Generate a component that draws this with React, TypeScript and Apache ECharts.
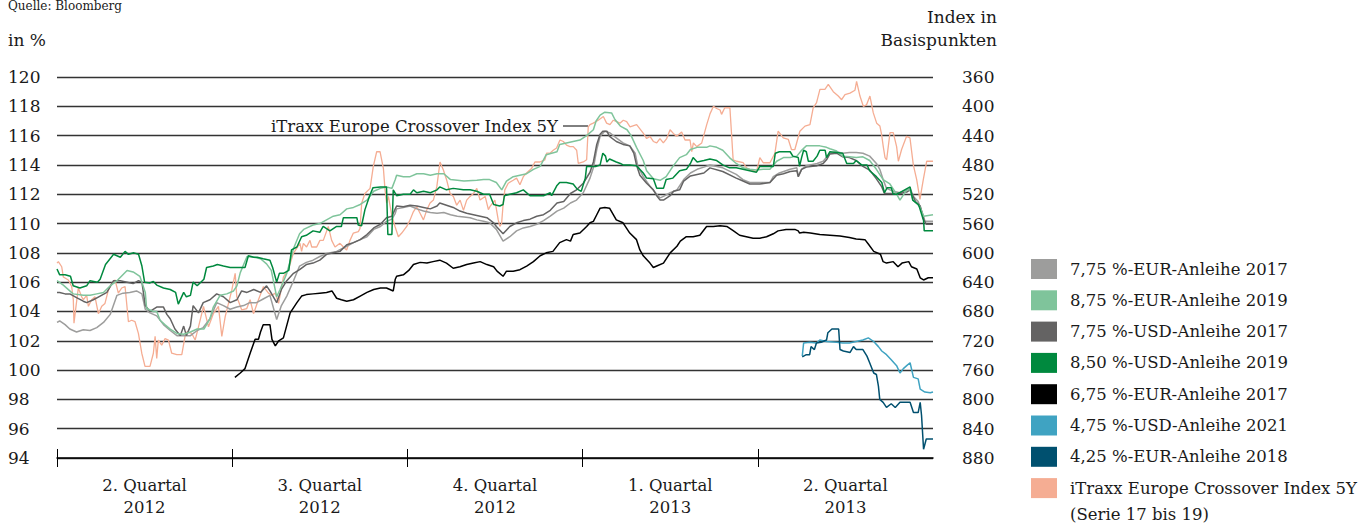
import React, { useEffect, useRef } from "react";
import * as echarts from "echarts";

// x = weeks since start of Q2 2012 (13 weeks per quarter), y = price in % (left) or spread in bp (right)
const quarterLabels = ["2. Quartal\n2012", "3. Quartal\n2012", "4. Quartal\n2012", "1. Quartal\n2013", "2. Quartal\n2013"];
const quarterTicks = [0, 13, 26, 39, 52];

const eur2017: number[][] = [[0,103.25],[0.2,103.35],[0.6,103.1],[0.95,102.8],[1.45,102.6],[1.95,102.75],[2.45,102.7],[2.95,102.9],[3.45,103.25],[3.95,103.8],[4.45,105.1],[4.9,105.25],[5.4,105.3],[5.9,105.4],[6.3,105.2],[6.55,104.15],[6.9,103.9],[7.4,103.7],[7.9,103.1],[8.4,102.7],[8.9,102.35],[9.4,102.35],[9.9,102.35],[10.4,102.7],[10.85,102.9],[11.35,103.5],[11.85,104.6],[12.35,104.4],[12.85,104.15],[13.35,104.3],[13.85,104.4],[14.3,104.6],[14.8,104.6],[15.3,104.85],[15.8,105.1],[16.3,103.45],[16.65,104.4],[17.05,105.05],[17.55,106.1],[18.0,107.1],[18.5,107.35],[19.0,107.5],[19.5,107.75],[20.0,107.95],[20.75,108.1],[21.5,108.45],[22.0,108.7],[22.5,108.9],[23.0,109.1],[23.5,109.6],[24.0,109.8],[24.45,110.15],[24.85,110.3],[25.1,110.7],[25.2,111.0],[25.7,111.1],[26.2,111.2],[26.7,111.0],[27.2,110.85],[27.7,110.75],[28.2,110.7],[28.7,110.75],[29.2,110.6],[29.7,110.5],[30.2,110.45],[30.65,110.4],[31.15,110.25],[31.65,110.15],[32.1,110.05],[32.6,109.6],[33.1,108.8],[33.6,109.1],[34.1,109.5],[34.6,109.7],[35.1,109.8],[35.6,109.95],[36.1,110.2],[36.6,110.5],[37.1,110.85],[37.6,111.05],[38.1,111.4],[38.55,111.6],[39.05,112.1],[39.55,113.1],[39.8,113.8],[40.05,115.05],[40.3,115.95],[40.65,116.3],[41.0,116.2],[41.5,115.85],[42.0,115.5],[42.5,115.3],[42.9,114.8],[43.1,113.9],[43.5,113.2],[44.0,112.55],[44.5,112.0],[44.75,111.75],[45.0,111.85],[45.5,112.1],[46.0,112.3],[46.5,113.0],[47.0,113.45],[47.5,113.7],[48.0,113.85],[48.45,114.0],[49.4,113.8],[50.4,113.35],[50.9,113.0],[51.4,112.8],[52.15,112.8],[52.9,112.8],[53.15,113.2],[53.6,113.45],[54.4,113.7],[54.9,113.8],[55.0,113.2],[55.25,113.7],[55.6,113.95],[56.4,114.1],[56.85,114.25],[57.35,114.8],[57.85,114.9],[58.3,114.8],[58.8,114.85],[59.3,114.85],[59.8,114.8],[60.3,114.6],[60.8,114.1],[61.05,113.7],[61.3,113.0],[61.55,112.4],[62.05,112.2],[62.55,112.1],[63.05,112.3],[63.3,112.4],[63.55,111.85],[63.9,111.5],[64.3,110.5],[64.4,110.15],[65.0,110.15]];

const eur2019: number[][] = [[0,106.1],[0.47,105.8],[1.2,105.2],[1.95,105.1],[2.45,105.1],[2.95,105.2],[3.45,105.3],[3.95,105.75],[4.45,106.1],[5.2,106.8],[5.65,106.7],[6.15,106.4],[6.55,105.3],[6.65,104.2],[7.15,104.0],[7.4,104.0],[7.65,103.4],[8.0,103.1],[8.4,102.8],[8.9,102.5],[9.4,102.45],[9.9,102.6],[10.4,102.8],[10.9,102.8],[11.35,103.5],[11.6,104.3],[12.1,105.1],[12.6,105.2],[13.1,105.4],[13.35,105.75],[13.6,106.65],[14.1,107.75],[14.6,107.7],[15.1,107.6],[15.55,107.25],[15.9,106.8],[16.3,105.0],[16.55,105.5],[17.05,106.6],[17.55,108.3],[18.0,109.3],[18.3,109.6],[19.0,109.9],[19.5,110.0],[20.0,110.25],[20.5,110.5],[21.0,110.6],[21.5,111.0],[22.0,111.1],[22.5,111.3],[23.0,111.6],[23.5,112.2],[24.0,112.4],[24.45,112.5],[24.85,112.4],[25.1,113.0],[25.2,113.3],[25.7,113.2],[26.2,113.2],[26.7,113.4],[27.2,113.4],[27.7,113.3],[28.2,113.4],[28.7,113.4],[29.2,113.0],[29.7,112.95],[30.2,112.9],[31.15,112.95],[31.65,113.0],[32.1,113.0],[32.6,112.8],[33.0,112.3],[33.35,112.9],[33.85,113.2],[34.35,113.3],[34.85,113.4],[35.35,113.7],[35.85,113.9],[36.3,114.7],[37.1,114.9],[37.3,115.4],[37.8,115.5],[38.3,115.6],[38.8,115.7],[39.3,116.0],[39.8,116.4],[40.0,117.0],[40.3,117.4],[40.65,117.6],[41.15,117.55],[41.4,117.1],[41.8,116.65],[42.3,116.4],[42.6,116.0],[43.0,115.2],[43.5,114.3],[43.75,113.6],[44.25,113.05],[44.75,112.95],[45.2,113.2],[45.7,113.9],[46.2,114.5],[46.7,114.7],[47.0,115.05],[47.5,115.2],[48.2,115.2],[48.45,115.3],[48.95,115.2],[49.4,115.0],[49.9,114.5],[50.4,114.1],[50.9,113.8],[51.4,113.7],[51.9,113.65],[52.4,113.7],[52.9,113.7],[53.4,114.25],[53.9,114.5],[54.4,114.5],[54.9,114.6],[55.25,115.0],[55.6,115.3],[56.1,115.3],[56.6,115.3],[57.1,115.2],[57.35,115.1],[57.85,114.95],[58.3,114.6],[58.8,114.55],[59.3,114.5],[59.8,114.55],[60.3,114.3],[60.8,113.7],[61.3,113.0],[61.8,112.7],[62.3,112.0],[62.55,111.6],[63.05,112.3],[63.3,112.3],[63.5,111.6],[64.0,111.2],[64.3,110.5],[65.0,110.6]];

const usd2017: number[][] = [[0,105.3],[0.2,105.3],[0.6,105.2],[0.95,105.2],[1.45,104.95],[1.95,104.7],[2.2,104.6],[2.7,104.8],[3.2,105.05],[3.7,105.3],[4.2,106.1],[4.7,106.1],[5.2,106.0],[5.65,105.9],[6.05,106.1],[6.3,106.0],[6.55,104.4],[6.9,104.0],[7.4,104.3],[7.9,104.3],[8.15,103.8],[8.4,103.5],[8.75,102.8],[9.15,102.35],[9.4,103.0],[9.6,102.35],[9.9,103.0],[10.1,104.4],[10.5,103.9],[10.85,104.6],[11.35,104.8],[11.85,105.2],[12.35,105.0],[12.85,104.6],[13.35,104.8],[13.7,105.4],[14.1,105.3],[14.6,105.5],[15.1,105.3],[15.55,105.75],[15.8,105.4],[16.3,104.6],[16.65,105.5],[17.05,106.1],[17.55,106.6],[18.0,106.85],[18.5,107.2],[19.0,107.3],[19.5,107.5],[20.0,107.9],[20.5,108.0],[21.0,108.1],[21.5,108.55],[22.0,108.7],[22.5,108.9],[23.0,109.25],[23.5,109.7],[24.0,109.95],[24.45,110.4],[24.85,110.5],[25.1,111.0],[25.2,111.2],[25.7,111.15],[26.2,111.25],[26.7,111.2],[27.2,111.1],[27.7,111.0],[28.2,111.2],[28.4,111.4],[28.9,111.25],[29.4,111.1],[29.9,110.85],[30.4,110.7],[30.9,110.6],[31.4,110.5],[31.9,110.4],[32.4,110.05],[32.6,109.8],[33.1,109.3],[33.6,109.8],[34.1,110.05],[34.6,110.2],[35.1,110.3],[35.6,110.5],[36.1,110.6],[36.6,110.9],[37.1,111.4],[37.6,111.5],[38.1,112.05],[38.55,112.3],[39.05,112.75],[39.55,113.5],[39.8,114.2],[40.05,115.4],[40.3,116.1],[40.5,116.3],[40.8,116.3],[41.0,115.95],[41.5,115.6],[42.0,115.4],[42.5,115.3],[42.8,114.8],[43.0,114.0],[43.25,113.3],[43.75,112.75],[44.25,112.3],[44.5,111.9],[44.75,111.6],[45.0,111.6],[45.5,111.9],[45.75,112.2],[46.2,112.3],[46.5,112.9],[47.0,113.25],[47.5,113.35],[48.0,113.45],[48.45,113.8],[49.4,113.55],[50.4,113.1],[50.9,112.9],[51.4,112.7],[52.15,112.7],[52.9,112.8],[53.4,113.3],[53.9,113.4],[54.4,113.55],[54.9,113.6],[55.0,113.2],[55.25,113.7],[55.6,113.85],[56.4,113.95],[56.85,114.1],[57.1,114.35],[57.35,114.75],[57.85,114.8],[58.3,114.55],[58.8,114.5],[59.3,114.3],[59.8,113.9],[60.3,113.65],[60.8,113.05],[61.2,112.5],[61.4,112.05],[62.05,112.05],[62.55,112.05],[63.05,112.15],[63.3,112.3],[63.7,111.5],[64.05,111.2],[64.3,110.3],[64.5,109.95],[65.0,109.95]];

const usd2019: number[][] = [[0,106.9],[0.2,106.5],[0.6,106.5],[1.0,106.4],[1.2,105.75],[1.7,105.6],[2.2,105.75],[2.45,106.1],[3.0,106.0],[3.2,106.2],[3.6,107.2],[4.2,107.9],[4.45,107.8],[4.7,107.7],[5.05,108.1],[5.3,107.9],[5.7,108.0],[6.05,107.9],[6.3,107.1],[6.5,106.0],[6.9,105.95],[7.15,106.05],[7.4,105.8],[7.9,105.6],[8.4,105.5],[8.8,105.3],[9.0,104.5],[9.4,105.3],[9.6,105.0],[9.9,105.1],[10.1,106.0],[10.4,105.75],[10.9,106.2],[11.1,107.0],[11.6,107.1],[11.9,107.2],[12.35,107.1],[12.85,107.0],[13.3,107.0],[13.95,107.0],[14.2,107.8],[14.6,107.7],[14.85,107.7],[15.3,107.6],[15.8,107.5],[16.0,107.0],[16.3,106.0],[16.5,106.6],[16.8,106.6],[17.2,106.8],[17.4,108.2],[17.8,108.4],[18.15,109.1],[18.5,109.2],[19.0,109.5],[19.5,109.4],[19.75,109.8],[20.25,109.5],[20.75,109.8],[21.1,109.8],[21.25,110.4],[21.75,110.4],[22.25,110.4],[22.35,109.9],[22.6,109.85],[22.85,110.95],[23.2,111.9],[23.45,112.45],[24.0,112.5],[24.45,112.5],[24.55,109.25],[24.85,109.25],[24.95,112.3],[25.2,111.9],[25.7,112.0],[26.2,112.0],[26.45,112.3],[26.7,112.1],[27.2,112.2],[27.7,112.1],[28.2,112.3],[28.4,112.5],[28.9,112.3],[29.4,112.4],[30.15,112.3],[30.65,112.3],[31.15,112.2],[31.65,112.0],[32.1,112.0],[32.4,111.3],[32.85,111.2],[33.1,111.3],[33.2,111.9],[33.6,112.0],[34.1,112.1],[34.6,112.3],[35.1,111.9],[35.6,111.9],[36.1,111.9],[36.6,112.1],[36.7,111.9],[37.1,112.6],[37.3,112.8],[37.8,112.8],[38.3,112.7],[38.6,112.35],[38.9,112.2],[39.2,113.1],[39.3,113.9],[39.5,113.9],[40.0,113.9],[40.3,114.0],[40.5,114.8],[40.7,114.6],[40.8,114.2],[41.0,114.4],[41.5,114.2],[41.8,114.1],[42.0,114.0],[42.5,114.0],[43.0,113.95],[43.5,113.45],[43.75,113.1],[44.25,113.05],[44.5,112.4],[45.0,112.4],[45.2,113.0],[45.7,113.1],[46.2,113.6],[46.7,113.7],[47.0,114.1],[47.2,114.5],[47.5,114.2],[48.0,114.3],[48.45,114.4],[48.95,114.3],[49.4,114.0],[49.9,113.8],[50.4,113.8],[50.9,113.7],[51.4,113.6],[51.9,113.5],[52.15,113.9],[53.15,113.9],[53.3,114.8],[53.6,114.9],[54.4,114.9],[54.6,114.6],[55.0,114.5],[55.1,113.9],[55.25,114.5],[55.4,115.0],[55.6,114.9],[55.75,114.25],[56.1,114.25],[56.4,114.6],[56.6,115.0],[57.0,115.0],[57.1,114.5],[57.35,114.9],[57.85,114.85],[58.3,114.8],[58.6,114.1],[59.1,114.1],[59.3,114.3],[59.7,114.0],[60.1,114.0],[60.3,113.6],[60.8,113.2],[61.2,112.8],[61.4,112.1],[61.6,112.45],[61.9,112.45],[62.05,112.0],[62.3,112.0],[62.7,112.2],[63.0,112.35],[63.3,112.5],[63.5,111.6],[63.9,111.3],[64.0,111.1],[64.3,110.2],[64.35,109.5],[65.0,109.5]];

const eur2017b: number[][] = [[13.2,99.5],[13.6,99.8],[13.95,100.1],[14.35,101.2],[14.7,102.1],[14.95,102.1],[15.1,102.6],[15.3,103.1],[15.8,103.1],[15.95,102.1],[16.2,101.65],[16.45,102.0],[16.8,102.2],[17.3,103.9],[17.8,104.6],[18.15,105.05],[18.5,105.15],[19.0,105.2],[19.5,105.25],[20.0,105.3],[20.4,105.4],[20.75,104.9],[21.1,104.8],[21.5,104.7],[22.0,104.8],[22.5,105.05],[23.0,105.3],[23.5,105.5],[24.0,105.6],[24.45,105.6],[24.95,105.4],[25.1,106.2],[25.2,106.4],[25.7,106.5],[26.1,106.8],[26.45,107.2],[26.95,107.35],[27.45,107.3],[27.9,107.4],[28.4,107.5],[28.9,107.3],[29.4,106.95],[29.9,107.05],[30.4,107.2],[30.9,107.3],[31.4,107.4],[31.9,107.2],[32.4,107.05],[32.65,106.75],[33.1,106.4],[33.35,106.75],[33.85,106.75],[34.35,106.85],[34.85,107.1],[35.35,107.4],[35.85,107.8],[36.3,108.0],[36.8,108.1],[37.3,108.7],[37.8,108.9],[38.1,108.8],[38.3,109.25],[38.8,109.35],[39.3,109.8],[39.55,110.05],[39.8,110.15],[40.05,110.6],[40.3,111.05],[40.65,111.1],[41.0,111.05],[41.5,110.25],[42.0,110.05],[42.5,109.35],[43.0,108.9],[43.25,108.2],[43.5,107.8],[44.0,107.3],[44.25,107.0],[44.5,107.1],[45.0,107.3],[45.5,108.0],[46.0,108.45],[46.25,108.8],[46.7,109.1],[47.2,109.1],[47.7,109.2],[48.2,109.8],[48.7,109.8],[49.2,109.85],[49.7,109.8],[50.2,109.5],[50.65,109.2],[51.15,109.1],[51.65,109.0],[52.15,109.0],[52.65,109.1],[53.15,109.3],[53.5,109.5],[54.1,109.6],[54.75,109.6],[55.0,109.5],[55.1,109.35],[55.4,109.4],[55.9,109.35],[56.6,109.25],[57.35,109.2],[58.1,109.15],[58.8,109.05],[59.3,108.95],[59.95,108.9],[60.2,108.6],[60.6,108.1],[61.1,107.9],[61.3,107.4],[61.55,107.3],[62.05,107.4],[62.4,107.05],[62.7,107.3],[63.2,107.4],[63.4,107.05],[63.8,106.9],[64.05,106.3],[64.3,106.15],[64.65,106.3],[65.0,106.3]];

const usd2021: number[][] = [[55.3,100.95],[55.4,101.85],[55.85,101.9],[56.35,101.85],[56.6,102.05],[57.1,101.95],[57.85,101.9],[58.3,101.85],[58.8,101.85],[59.3,101.95],[59.8,102.05],[60.2,102.2],[60.6,101.95],[60.95,101.6],[61.2,101.3],[61.55,101.05],[61.9,100.7],[62.3,100.3],[62.55,99.8],[62.8,100.1],[63.05,100.3],[63.3,100.5],[63.55,99.5],[63.9,99.4],[64.05,98.7],[64.4,98.5],[64.8,98.45],[65.0,98.5]];

const eur2018: number[][] = [[55.3,100.9],[55.6,101.05],[55.85,101.05],[55.95,101.6],[56.2,101.4],[56.35,101.85],[56.7,101.9],[57.1,102.05],[57.2,102.55],[57.5,102.8],[58.0,102.8],[58.1,101.4],[58.35,101.3],[58.85,101.2],[59.1,101.6],[59.3,101.4],[59.8,101.4],[60.1,100.95],[60.3,100.5],[60.6,99.8],[60.8,99.7],[60.95,98.9],[61.05,98.0],[61.3,97.8],[61.55,97.45],[61.9,97.7],[62.2,97.45],[62.55,97.8],[63.05,97.8],[63.3,97.8],[63.55,97.1],[63.9,97.1],[64.05,97.8],[64.15,96.9],[64.3,94.6],[64.5,95.3],[65.0,95.3]];

const itraxx: number[][] = [[0,614],[0.1,612],[0.35,619],[0.47,633],[0.84,637],[1.09,646],[1.21,664],[1.26,696],[1.41,673],[1.58,648],[1.83,660],[1.96,664],[2.2,658],[2.33,673],[2.57,664],[2.82,660],[3.07,683],[3.32,673],[3.56,669],[3.81,651],[4.06,642],[4.31,637],[4.55,655],[4.8,648],[5.05,646],[5.3,694],[5.54,692],[5.79,694],[6.04,710],[6.29,737],[6.53,755],[6.9,755],[7.15,737],[7.28,714],[7.4,744],[7.52,719],[7.77,726],[8.02,717],[8.27,719],[8.51,737],[8.89,739],[9.26,739],[9.5,714],[9.63,708],[10.0,710],[10.25,719],[10.5,701],[10.87,673],[11.24,701],[11.6,683],[11.98,673],[12.23,714],[12.48,687],[12.97,651],[13.22,628],[13.34,660],[13.71,678],[14.08,676],[14.33,664],[14.58,683],[14.95,664],[15.32,646],[15.69,655],[15.94,658],[16.2,655],[16.44,669],[16.8,633],[17.16,623],[17.53,601],[17.78,594],[18.03,587],[18.15,598],[18.28,587],[18.52,592],[18.77,583],[18.9,592],[19.27,592],[19.51,583],[19.76,583],[20.13,564],[20.38,583],[20.63,592],[21.0,587],[21.25,592],[21.49,596],[21.74,583],[21.99,573],[22.36,571],[22.48,567],[22.61,532],[22.85,519],[23.23,512],[23.47,482],[23.72,462],[23.97,462],[24.22,485],[24.34,514],[24.46,532],[24.59,523],[24.83,548],[25.08,564],[25.33,578],[25.58,573],[25.95,564],[26.2,555],[26.44,544],[26.69,537],[26.94,546],[27.19,555],[27.43,542],[27.68,532],[27.93,528],[28.18,510],[28.42,476],[28.67,487],[28.92,501],[29.17,519],[29.41,523],[29.66,535],[29.91,528],[30.16,542],[30.4,528],[30.65,523],[30.9,519],[31.15,512],[31.39,528],[31.77,523],[32.01,541],[32.12,537],[32.49,528],[32.74,555],[32.86,564],[32.99,560],[33.11,532],[33.23,514],[33.48,505],[33.85,501],[34.1,498],[34.35,507],[34.6,496],[34.84,491],[35.21,485],[35.46,476],[35.83,476],[36.2,473],[36.33,464],[36.58,464],[36.82,460],[37.07,457],[37.32,446],[37.57,448],[37.81,453],[38.06,455],[38.31,455],[38.56,460],[38.68,478],[39.05,476],[39.3,473],[39.42,428],[39.55,425],[39.79,423],[40.16,419],[40.54,414],[40.78,423],[41.03,425],[41.28,419],[41.53,421],[41.77,423],[42.02,419],[42.27,421],[42.52,428],[43.01,425],[43.51,437],[43.75,444],[44.0,441],[44.25,448],[44.5,450],[44.74,444],[44.99,450],[45.24,444],[45.49,432],[45.73,437],[45.98,441],[46.35,435],[46.6,446],[46.97,446],[47.1,462],[47.22,450],[47.47,455],[47.84,450],[48.21,425],[48.46,410],[48.71,400],[48.95,403],[49.2,405],[49.31,411],[49.55,402],[49.93,402],[50.17,473],[50.42,475],[50.92,477],[51.16,484],[51.41,486],[51.91,489],[52.15,470],[52.4,477],[52.9,477],[53.27,464],[53.51,434],[53.89,443],[54.26,445],[54.5,459],[54.75,459],[55.12,434],[55.5,427],[55.87,425],[56.11,402],[56.36,395],[56.61,377],[56.98,377],[57.23,370],[57.6,380],[57.97,386],[58.22,391],[58.47,384],[58.84,382],[59.21,378],[59.33,366],[59.58,386],[59.83,400],[60.07,398],[60.32,386],[60.57,409],[60.82,423],[61.06,427],[61.19,439],[61.31,455],[61.44,470],[61.56,473],[61.81,436],[62.05,436],[62.3,455],[62.43,475],[62.67,459],[63.04,441],[63.29,443],[63.54,480],[63.79,500],[64.03,527],[64.28,500],[64.53,475],[65.0,475]];

const seriesNames = [
  "7,75 %-EUR-Anleihe 2017",
  "8,75 %-EUR-Anleihe 2019",
  "7,75 %-USD-Anleihe 2017",
  "8,50 %-USD-Anleihe 2019",
  "6,75 %-EUR-Anleihe 2017",
  "4,75 %-USD-Anleihe 2021",
  "4,25 %-EUR-Anleihe 2018",
  "iTraxx Europe Crossover Index 5Y\n(Serie 17 bis 19)",
];
const seriesColors = ["#9d9d9c", "#7fc49b", "#646363", "#00893e", "#000000", "#3fa3c2", "#00506f", "#f5ad93"];
const seriesData = [eur2017, eur2019, usd2017, usd2019, eur2017b, usd2021, eur2018, itraxx];
const seriesAxis = [0, 0, 0, 0, 0, 0, 0, 1];
const drawOrder = [7, 0, 2, 1, 3, 4, 5, 6];

const FONT = "DejaVu Serif";
const TXT = "#1a1a1a";

export default function App() {
  const ref = useRef<HTMLDivElement>(null);
  useEffect(() => {
    if (!ref.current) return;
    const chart = echarts.init(ref.current, null, { renderer: "svg" });

    const legendGraphics: any[] = [];
    seriesNames.forEach((name, i) => {
      const cy = 269 + i * 31.3;
      legendGraphics.push({
        type: "rect",
        shape: { x: 1031, y: cy - 10, width: 26, height: 20 },
        style: { fill: seriesColors[i] },
        silent: true,
      });
      const multi = name.indexOf("\n") >= 0;
      legendGraphics.push({
        type: "text",
        x: 1070,
        y: multi ? cy - 13 : cy,
        style: {
          text: name,
          fill: TXT,
          font: `16.5px "${FONT}"`,
          verticalAlign: multi ? "top" : "middle",
          lineHeight: 26,
        },
        silent: true,
      });
    });

    const option: any = {
      animation: false,
      backgroundColor: "#ffffff",
      grid: { left: 57, right: 430, top: 77, bottom: 70, containLabel: false },
      xAxis: [
        {
          type: "value", min: 0, max: 65, interval: 13, position: "bottom",
          axisLine: { show: true, lineStyle: { color: "#000", width: 1.5 } },
          axisTick: { show: true, length: 9, customValues: quarterTicks, lineStyle: { color: "#000", width: 1 } },
          axisLabel: { show: false },
          splitLine: { show: false },
        },
        {
          type: "value", min: 0, max: 65, interval: 13, position: "bottom",
          axisLine: { show: false },
          axisTick: { show: true, inside: true, length: 9, customValues: quarterTicks, lineStyle: { color: "#000", width: 1 } },
          axisLabel: { show: false },
          splitLine: { show: false },
        },
        {
          type: "category", data: quarterLabels, position: "bottom", boundaryGap: true,
          axisLine: { show: false }, axisTick: { show: false }, splitLine: { show: false },
          axisLabel: { color: TXT, fontFamily: FONT, fontSize: 16.5, lineHeight: 22, margin: 16, interval: 0 },
        },
      ],
      yAxis: [
        {
          type: "value", min: 94, max: 120, interval: 2, position: "left",
          axisLine: { show: false }, axisTick: { show: false },
          axisLabel: { color: TXT, fontFamily: FONT, fontSize: 17, align: "left", margin: 49 },
          splitLine: { show: true, lineStyle: { color: "#333", width: 1.4 } },
        },
        {
          type: "value", min: 360, max: 880, interval: 40, inverse: true, position: "right",
          axisLine: { show: false }, axisTick: { show: false },
          axisLabel: { color: TXT, fontFamily: FONT, fontSize: 17, align: "left", margin: 29 },
          splitLine: { show: false },
        },
      ],
      series: drawOrder.map((i) => ({
        name: seriesNames[i],
        type: "line",
        xAxisIndex: 0,
        yAxisIndex: seriesAxis[i],
        data: seriesData[i],
        showSymbol: false,
        symbol: "none",
        silent: true,
        lineStyle: { color: seriesColors[i], width: i === 7 ? 1.3 : 1.5 },
        itemStyle: { color: seriesColors[i] },
      })),
      graphic: [
        { type: "text", x: 8, y: 0, style: { text: "Quelle: Bloomberg", fill: TXT, font: `12px "${FONT}"`, verticalAlign: "top" }, silent: true },
        { type: "text", x: 8, y: 40, style: { text: "in %", fill: TXT, font: `17px "${FONT}"`, verticalAlign: "middle" }, silent: true },
        { type: "text", x: 997, y: 17, style: { text: "Index in", fill: TXT, font: `17px "${FONT}"`, verticalAlign: "middle", align: "right" }, silent: true },
        { type: "text", x: 997, y: 40, style: { text: "Basispunkten", fill: TXT, font: `17px "${FONT}"`, verticalAlign: "middle", align: "right" }, silent: true },
        { type: "text", x: 271, y: 126, style: { text: "iTraxx Europe Crossover Index 5Y", fill: TXT, font: `16.5px "${FONT}"`, verticalAlign: "middle" }, silent: true },
        { type: "line", shape: { x1: 563, y1: 126, x2: 588, y2: 126 }, style: { stroke: "#000", lineWidth: 1 }, silent: true },
        ...legendGraphics,
      ],
    };
    chart.setOption(option);
    return () => chart.dispose();
  }, []);
  return <div ref={ref} style={{ position: "absolute", left: 0, top: 0, width: 1363, height: 528 }} />;
}
